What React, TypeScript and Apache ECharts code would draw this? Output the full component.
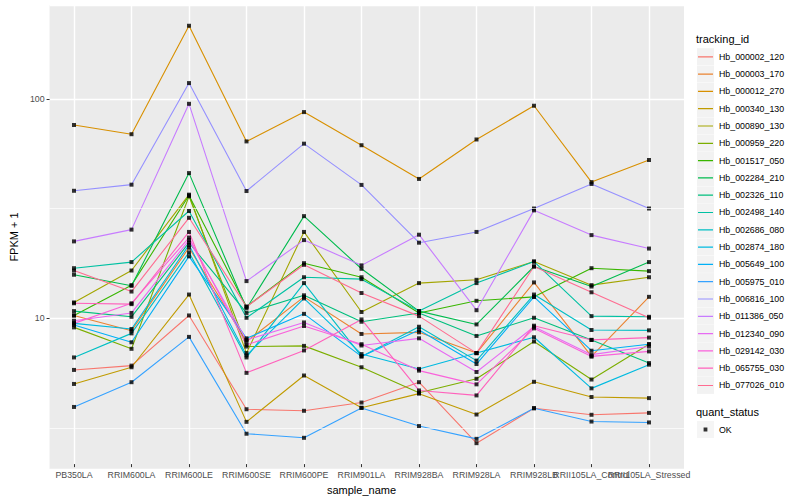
import React, { useEffect, useRef } from "react";
import * as echarts from "echarts";

const categories = [
  "PB350LA", "RRIM600LA", "RRIM600LE", "RRIM600SE", "RRIM600PE", "RRIM901LA",
  "RRIM928BA", "RRIM928LA", "RRIM928LB", "RRII105LA_Control", "RRII105LA_Stressed",
];

const trackingIds = [
  "Hb_000002_120", "Hb_000003_170", "Hb_000012_270", "Hb_000340_130", "Hb_000890_130",
  "Hb_000959_220", "Hb_001517_050", "Hb_002284_210", "Hb_002326_110", "Hb_002498_140",
  "Hb_002686_080", "Hb_002874_180", "Hb_005649_100", "Hb_005975_010", "Hb_006816_100",
  "Hb_011386_050", "Hb_012340_090", "Hb_029142_030", "Hb_065755_030", "Hb_077026_010",
];

const palette = [
  "#F8766D", "#EA8331", "#D89000", "#C09B00", "#A3A500", "#7CAE00", "#39B600", "#00BB4E",
  "#00BF7D", "#00C1A3", "#00BFC4", "#00BAE0", "#00B0F6", "#35A2FF", "#9590FF", "#C77CFF",
  "#E76BF3", "#FA62DB", "#FF62BC", "#FF6C91",
];

// FPKM + 1 values per tracking id, in category order
const hb000002_120 = [5.57, 5.83, 9.93, 3.67, 3.61, 3.94, 4.89, 2.56, 3.71, 3.46, 3.53];
const hb000003_170 = [9.93, 8.45, 20.4, 7.53, 12.1, 8.16, 8.3, 6.66, 14.1, 6.43, 12.1];
const hb000012_270 = [75, 68, 215, 63, 86, 60.5, 42.3, 64.3, 92, 40.9, 51.7];
const hb000340_130 = [4.8, 5.73, 12.4, 3.21, 5.25, 3.73, 4.33, 3.47, 4.91, 4.18, 4.13];
const hb000890_130 = [11.4, 16.0, 35.8, 6.66, 24.1, 10.3, 14.0, 14.5, 17.6, 13.7, 14.9];
const hb000959_220 = [8.75, 6.97, 35.2, 7.14, 7.19, 5.73, 4.37, 5.07, 7.53, 5.03, 7.32];
const hb001517_050 = [9.93, 13.7, 35.5, 10.9, 17.3, 14.9, 10.2, 11.6, 12.1, 16.4, 15.9];
const hb002284_210 = [15.3, 13.6, 45.0, 10.7, 28.5, 16.3, 10.4, 9.03, 16.7, 13.5, 17.5];
const hb002326_110 = [10.4, 9.79, 21.5, 10.2, 12.3, 9.29, 10.2, 7.99, 9.69, 7.66, 5.99];
const hb002498_140 = [16.4, 17.5, 30.1, 9.69, 14.9, 14.6, 10.4, 14.0, 17.6, 9.86, 9.79];
const hb002686_080 = [6.36, 8.21, 19.4, 6.36, 14.0, 6.43, 8.81, 6.15, 12.4, 8.51, 8.48];
const hb002874_180 = [9.13, 8.6, 21.0, 6.5, 11.9, 6.59, 5.63, 6.66, 7.88, 4.58, 5.89];
const hb005649_100 = [8.98, 7.47, 18.6, 7.79, 10.1, 6.43, 8.51, 5.93, 12.1, 6.83, 7.32];
const hb005975_010 = [3.76, 4.89, 7.91, 2.83, 2.71, 3.72, 3.07, 2.68, 3.71, 3.22, 3.19];
const hb006816_100 = [37.3, 39.8, 117, 37.2, 61.5, 39.7, 21.5, 24.1, 30.9, 40.1, 30.9];
const hb011386_050 = [21.8, 24.7, 93.9, 14.3, 22.1, 16.9, 23.4, 10.5, 30.3, 23.3, 20.2];
const hb012340_090 = [9.39, 10.2, 22.1, 7.66, 9.22, 7.22, 7.79, 5.45, 8.81, 6.55, 7.14];
const hb029142_030 = [9.13, 11.3, 22.7, 7.27, 8.88, 7.32, 5.53, 4.78, 8.66, 6.43, 6.78];
const hb065755_030 = [11.3, 11.2, 24.1, 5.4, 6.85, 9.52, 4.48, 4.25, 8.91, 7.66, 7.85];
const hb077026_010 = [16.0, 12.8, 28.0, 10.9, 17.0, 12.6, 9.86, 6.66, 16.7, 12.7, 9.69];

const seriesValues = [
  hb000002_120, hb000003_170, hb000012_270, hb000340_130, hb000890_130,
  hb000959_220, hb001517_050, hb002284_210, hb002326_110, hb002498_140,
  hb002686_080, hb002874_180, hb005649_100, hb005975_010, hb006816_100,
  hb011386_050, hb012340_090, hb029142_030, hb065755_030, hb077026_010,
];

const yTickLabels = ["10", "100"];
const minorBreaks = [3.1623, 31.623];
const statusName = "OK";

const FONT = "'Liberation Sans', Arial, Helvetica, sans-serif";

export default function App() {
  const ref = useRef<HTMLDivElement>(null);

  useEffect(() => {
    if (!ref.current) return;
    const chart = echarts.init(ref.current, undefined, { renderer: "svg" });

    const yMin = 2.05;
    const yMax = 268;
    const panel = { left: 40, top: 5, width: 644, height: 464 };

    const lineSeries = trackingIds.map((id, i) => ({
      name: id,
      type: "line",
      xAxisIndex: 1,
      yAxisIndex: 1,
      data: seriesValues[i],
      symbol: "none",
      showSymbol: false,
      lineStyle: { color: palette[i], width: 1.1 },
      itemStyle: { color: palette[i] },
      silent: true,
      z: 2,
    }));

    const points: number[][] = [];
    seriesValues.forEach((vals) => vals.forEach((v, j) => points.push([j, v])));

    const lineIcon =
      "path://M0 0h0.01v0.01h-0.01z M17 17h0.01v0.01h-0.01z M1 8h15v1.2h-15z";
    const pointIcon =
      "path://M0 0h0.01v0.01h-0.01z M17 17h0.01v0.01h-0.01z M6.6 6.6h3.8v3.8h-3.8z";

    const legendCommon = {
      orient: "vertical",
      left: 697,
      itemWidth: 17,
      itemHeight: 17,
      itemGap: 0.3,
      selectedMode: false,
      padding: 0,
      textStyle: { fontSize: 8.8, color: "#000", fontFamily: FONT },
    };

    chart.setOption({
      animation: false,
      textStyle: { fontFamily: FONT },
      grid: [
        {
          ...panel,
          show: true,
          backgroundColor: "#EBEBEB",
          borderWidth: 0,
        },
        {
          left: 74,
          top: panel.top,
          width: 575,
          height: panel.height,
          show: false,
        },
      ],
      xAxis: [
        { type: "value", gridIndex: 0, min: 0, max: 1, show: false },
        {
          type: "category",
          gridIndex: 1,
          data: categories,
          boundaryGap: false,
          axisLine: { show: false },
          axisTick: { show: true, length: 3, lineStyle: { color: "#333333", width: 1 } },
          axisLabel: { interval: 0, fontSize: 8.8, color: "#4D4D4D", margin: 6, fontFamily: FONT },
          splitLine: { show: true, lineStyle: { color: "#FFFFFF", width: 1.4 } },
          name: "sample_name",
          nameLocation: "middle",
          nameGap: 12,
          nameTextStyle: { fontSize: 11, color: "#000", fontFamily: FONT },
        },
      ],
      yAxis: [
        {
          type: "log",
          logBase: 10,
          gridIndex: 0,
          min: yMin,
          max: yMax,
          axisLine: { show: false },
          axisTick: { show: true, length: 3, lineStyle: { color: "#333333", width: 1 } },
          axisLabel: {
            fontSize: 8.8,
            color: "#4D4D4D",
            margin: 5,
            fontFamily: FONT,
            showMinLabel: false,
            showMaxLabel: false,
            formatter: (v: number) => {
              const s = String(Math.round(v));
              return yTickLabels.indexOf(s) >= 0 ? s : "";
            },
          },
          splitLine: { show: true, lineStyle: { color: "#FFFFFF", width: 1.4 } },
          name: "FPKM + 1",
          nameLocation: "middle",
          nameGap: 22,
          nameTextStyle: { fontSize: 11, color: "#000", fontFamily: FONT },
        },
        {
          type: "log",
          logBase: 10,
          gridIndex: 1,
          min: yMin,
          max: yMax,
          show: false,
        },
      ],
      legend: [
        {
          ...legendCommon,
          top: 48.2,
          data: trackingIds.map((id) => ({
            name: id,
            icon: "rect",
            itemStyle: { color: "#F2F2F2", borderWidth: 0 },
          })),
          formatter: () => "",
        },
        {
          ...legendCommon,
          top: 48.2,
          data: trackingIds.map((id, i) => ({
            name: id,
            icon: lineIcon,
            itemStyle: { color: palette[i], borderWidth: 0 },
          })),
        },
        {
          ...legendCommon,
          top: 421,
          data: [{ name: statusName, icon: "rect", itemStyle: { color: "#F2F2F2", borderWidth: 0 } }],
          formatter: () => "",
        },
        {
          ...legendCommon,
          top: 421,
          data: [{ name: statusName, icon: pointIcon, itemStyle: { color: "#000", borderWidth: 0 } }],
        },
      ],
      graphic: [
        {
          type: "text",
          left: 696,
          top: 33,
          style: { text: "tracking_id", fontSize: 11, fill: "#000", fontFamily: FONT },
        },
        {
          type: "text",
          left: 696,
          top: 406,
          style: { text: "quant_status", fontSize: 11, fill: "#000", fontFamily: FONT },
        },
      ],
      series: [
        {
          name: "minor-grid",
          type: "line",
          xAxisIndex: 0,
          yAxisIndex: 0,
          data: [[0.5, 10]],
          symbol: "none",
          showSymbol: false,
          lineStyle: { opacity: 0 },
          silent: true,
          z: 1,
          markLine: {
            silent: true,
            symbol: ["none", "none"],
            label: { show: false },
            lineStyle: { color: "#FFFFFF", width: 0.7, type: "solid" },
            data: minorBreaks.map((b) => ({ yAxis: b })),
          },
        },
        ...lineSeries,
        {
          name: statusName,
          type: "scatter",
          xAxisIndex: 1,
          yAxisIndex: 1,
          data: points,
          symbol: "rect",
          symbolSize: 4,
          itemStyle: { color: "#000" },
          silent: true,
          z: 3,
        },
      ],
    });

    return () => chart.dispose();
  }, []);

  return (
    <div
      ref={ref}
      style={{ position: "absolute", left: 0, top: 0, width: 800, height: 500, background: "#fff" }}
    />
  );
}
